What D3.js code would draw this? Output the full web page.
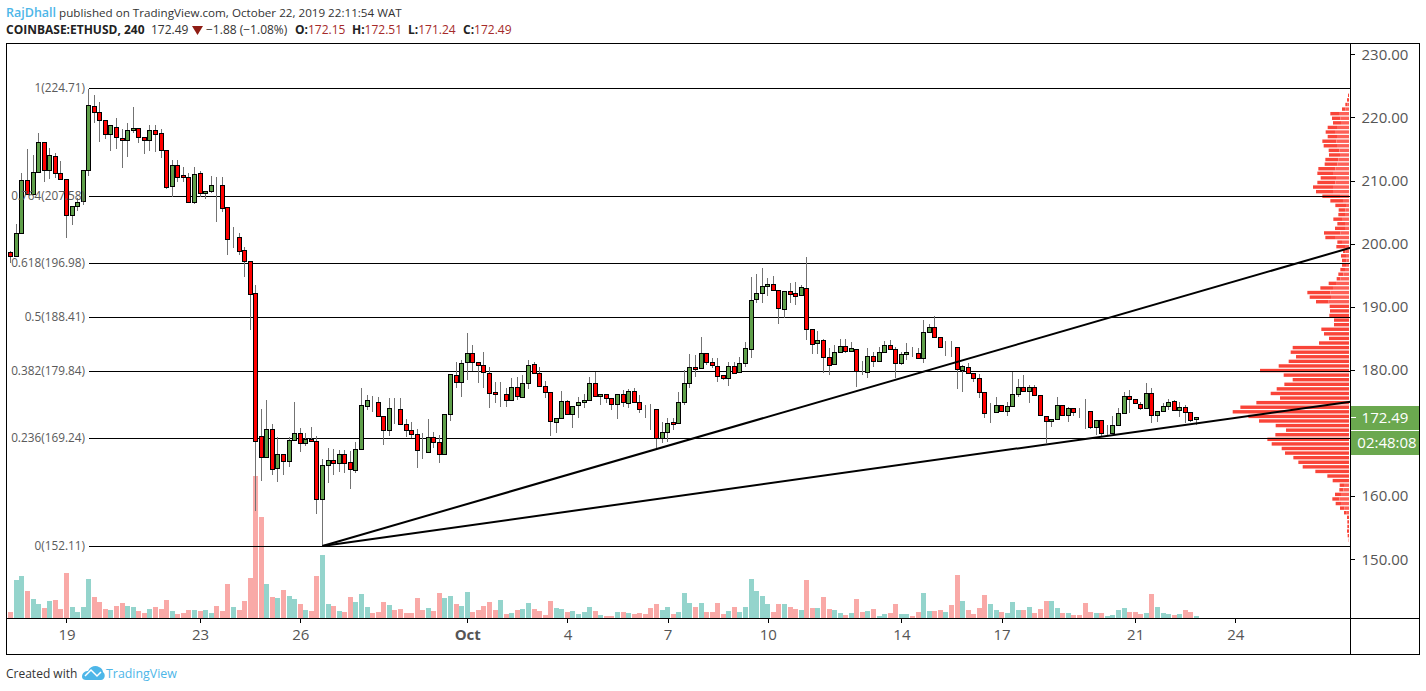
<!DOCTYPE html>
<html lang="en">
<head>
<meta charset="utf-8">
<title>ETHUSD 240</title>
<script src="https://d3js.org/d3.v7.min.js"></script>
<style>
  html, body { margin: 0; padding: 0; background: #fff; }
  svg { display: block; }
  text { font-family: "Open Sans", sans-serif; }
  .axis line, .axis path { stroke: #000; shape-rendering: crispEdges; }
</style>
</head>
<body>
<div id="chart"></div>
<script>
// candles, 4h bars, first bar Sep 17 08:00
var openPrices = [
198.64,198.00,201.65,210.04,207.82,211.31,216.06,211.62,213.84,211.15,
210.20,204.50,205.92,206.71,211.62,221.76,220.81,219.54,217.33,218.44,
216.69,216.38,217.96,218.28,216.85,216.38,217.96,217.49,214.79,209.09,
212.42,210.83,210.52,206.56,211.15,207.98,208.30,209.26,209.25,205.76,
201.10,201.01,198.95,197.21,192.14,169.49,166.16,170.60,164.42,166.64,
165.53,168.86,169.97,168.38,169.11,168.70,159.51,164.90,165.69,165.21,
166.64,165.37,164.10,167.43,174.24,175.14,174.88,172.66,170.44,173.88,
173.77,171.39,170.44,169.81,167.22,166.96,169.33,168.54,166.64,172.97,
179.15,178.04,181.21,182.64,181.21,180.74,179.47,176.46,176.02,176.14,
175.19,177.25,175.67,177.88,180.90,179.47,177.41,176.46,171.71,172.34,
175.03,172.97,174.40,174.88,175.19,177.88,175.83,176.14,175.51,174.56,
176.14,174.72,176.62,174.88,173.81,173.81,173.77,169.27,170.12,171.71,
171.55,174.88,177.88,180.42,180.26,182.64,181.21,180.58,179.15,178.68,
180.58,179.63,181.05,183.27,191.19,192.14,193.25,193.57,192.62,189.61,
192.46,192.14,191.82,192.93,186.44,184.22,184.70,182.00,180.90,182.80,
183.75,182.95,183.27,179.80,179.63,182.16,181.37,182.80,183.90,183.27,
181.05,182.48,182.81,182.64,181.84,185.96,186.76,185.17,183.66,183.68,
183.59,179.94,180.42,179.47,178.68,176.46,173.22,173.29,174.40,173.45,
174.24,176.14,177.25,176.62,177.25,175.98,172.66,171.87,172.18,174.40,
172.82,173.93,173.46,173.40,173.45,170.92,172.02,169.90,169.97,171.23,
173.13,175.83,175.35,174.56,173.93,176.30,172.82,173.45,174.24,175.03,
173.61,174.08,173.29,172.15];

var highPrices = [
198.84,203.12,211.20,214.99,214.05,217.53,216.06,215.16,214.36,213.10,
210.20,205.92,207.24,211.62,224.55,223.55,222.44,219.54,218.75,219.91,
218.17,219.12,221.65,218.28,216.85,218.80,218.80,218.17,214.79,213.26,
213.26,212.15,211.20,212.15,211.51,208.30,210.72,210.56,210.56,205.86,
202.64,201.69,199.48,197.21,193.46,173.81,175.24,171.44,169.38,166.64,
169.38,174.92,170.80,170.06,170.96,169.54,165.89,167.64,167.48,167.32,
167.32,167.16,168.59,177.14,176.03,175.87,175.72,172.66,175.56,175.56,
175.56,172.23,171.76,170.65,170.01,172.28,170.17,169.70,172.97,179.31,
181.31,181.58,185.85,183.95,181.21,182.84,180.47,178.09,178.09,177.14,
178.72,178.88,179.20,181.58,181.26,180.47,178.25,176.46,172.34,176.67,
175.30,174.24,175.72,176.19,178.88,179.67,176.14,176.14,175.51,176.14,
176.82,176.98,177.14,176.03,174.45,174.61,173.77,171.76,172.39,172.39,
176.51,179.99,182.53,182.37,185.22,182.64,181.89,181.89,179.15,181.26,
181.26,182.05,184.43,194.72,195.20,196.15,194.56,194.88,192.62,192.46,
193.77,193.93,193.46,197.94,186.44,186.17,184.90,183.48,183.95,184.90,
184.90,184.43,183.27,181.42,183.48,182.84,183.64,184.59,184.74,183.64,
182.84,184.27,183.64,183.48,187.91,187.28,188.55,185.17,184.59,184.59,
183.59,180.78,181.10,179.47,179.36,176.46,174.76,175.72,174.40,174.92,
179.67,178.57,179.20,177.62,177.62,175.98,172.66,172.18,175.72,174.40,
174.13,173.93,173.97,175.40,173.45,172.02,172.02,171.28,172.71,173.97,
176.51,176.82,175.35,174.92,177.93,177.14,173.45,174.76,175.40,175.24,
174.92,174.45,173.29,172.51];

var lowPrices = [
196.94,198.00,201.65,207.82,207.82,211.31,209.82,210.25,210.40,210.20,
200.95,202.96,205.18,206.20,210.77,219.12,216.15,216.63,214.73,215.05,
212.04,213.78,217.53,215.95,214.21,214.73,214.57,213.57,208.66,207.40,
209.77,209.77,206.56,206.29,207.40,207.08,207.98,203.48,205.07,198.21,
199.32,198.21,194.72,186.33,157.71,162.46,166.16,163.36,162.30,163.36,
164.63,168.86,167.05,167.95,168.70,157.18,152.11,162.09,163.36,163.84,
163.68,161.14,163.68,167.43,173.66,173.39,172.66,168.16,169.59,171.44,
171.23,169.38,169.22,164.47,165.89,166.80,167.64,165.26,166.48,171.96,
177.14,175.76,178.41,179.83,177.88,177.14,173.97,174.76,174.13,174.13,
175.19,175.19,175.67,176.98,179.47,177.25,175.56,169.59,170.01,172.34,
172.97,170.85,172.39,173.97,175.19,175.72,174.45,174.76,173.66,172.23,
174.13,173.97,174.88,173.18,172.39,170.49,167.64,168.43,168.64,170.49,
171.55,174.45,177.14,178.88,180.26,180.78,180.31,178.09,178.41,177.51,
179.47,179.63,180.47,181.89,190.60,190.60,191.71,192.62,187.28,188.23,
190.60,190.29,191.82,184.74,182.53,182.53,179.52,179.20,180.90,182.80,
182.68,182.95,177.35,179.20,178.72,180.47,181.37,182.80,183.27,178.72,
180.78,181.58,182.05,181.73,181.10,185.96,185.17,183.48,182.21,182.05,
176.98,176.55,179.47,178.09,175.56,172.31,171.60,173.29,173.45,172.71,
174.24,175.72,176.62,174.81,175.98,172.82,168.38,171.01,172.18,172.82,
171.76,172.71,172.39,170.65,170.65,169.70,169.38,169.70,169.97,171.23,
173.13,173.18,174.72,173.66,173.93,171.60,171.76,173.45,173.66,173.61,
172.55,171.60,171.76,171.24];

var closePrices = [
198.00,201.65,210.04,207.82,211.31,216.06,211.62,214.00,211.15,210.20,
204.50,205.92,206.56,211.62,221.92,220.81,219.54,217.33,218.75,216.85,
216.38,217.96,218.28,216.85,216.38,217.96,217.33,214.79,208.93,212.42,
210.52,210.52,206.56,211.00,207.98,208.30,209.25,209.25,205.61,200.69,
201.11,198.79,197.21,191.98,168.70,166.16,170.60,164.26,166.64,165.53,
168.86,169.97,168.38,169.11,168.70,159.51,164.90,165.69,165.21,166.64,
165.21,164.26,167.43,174.40,175.19,175.12,172.66,170.44,173.93,173.86,
171.39,170.44,169.81,167.27,167.20,169.33,168.54,166.64,172.97,179.31,
178.04,181.05,182.64,181.21,180.74,179.63,176.30,176.14,176.03,175.19,
177.25,175.83,177.88,180.74,179.47,177.41,176.46,171.87,172.34,175.03,
172.97,174.24,174.88,175.19,177.88,175.83,176.14,175.51,174.56,176.14,
174.88,176.62,174.88,173.77,173.79,173.79,169.27,170.12,171.55,171.39,
174.88,177.88,180.42,180.10,182.64,181.21,180.74,178.99,178.68,180.58,
179.47,181.05,183.43,191.03,192.14,193.25,193.57,192.62,189.77,192.46,
191.98,191.67,193.09,186.44,184.06,184.70,182.00,180.74,182.80,183.75,
182.95,183.43,179.79,179.78,182.16,181.37,182.80,183.90,183.27,181.05,
182.48,182.80,182.79,181.84,185.96,186.76,185.17,183.59,183.68,183.66,
180.10,180.58,179.47,178.68,176.46,173.13,173.24,174.40,173.45,174.24,
176.14,177.25,176.62,177.25,175.98,172.82,171.87,172.18,174.40,172.82,
173.93,173.29,173.44,173.38,170.92,172.02,169.97,169.92,171.23,173.13,
175.83,175.35,174.72,173.93,176.30,172.82,173.45,174.24,174.88,173.61,
174.08,173.29,172.02,172.49];

var volumes = [
19,115,127,82,58,43,31,52,55,28,
136,34,19,34,118,64,49,28,25,37,
46,37,34,22,16,28,34,28,55,22,
13,16,25,25,22,25,16,37,22,103,
34,25,52,121,427,304,103,64,61,85,
67,58,43,25,22,127,190,43,37,22,
19,64,49,73,34,16,19,49,40,25,
28,16,16,61,25,31,22,76,61,67,
43,37,79,19,25,37,49,25,55,13,
16,25,28,46,28,22,10,52,31,28,
19,22,13,19,34,22,10,7,7,19,
19,16,13,16,13,31,43,25,34,13,
19,76,46,34,46,19,19,46,13,22,
34,19,34,118,82,67,43,19,43,43,
34,28,25,115,31,31,64,28,25,16,
10,16,58,19,22,28,7,13,16,43,
13,13,7,19,76,22,22,25,19,40,
130,52,25,13,31,70,43,25,19,16,
49,25,25,34,16,28,52,52,31,16,
16,10,10,46,19,16,16,7,10,25,
31,19,19,13,16,73,34,16,13,10,
13,25,19,7];

// volume profile rows, top row first
var profileSell = [
3,6,6,10,26,25,24,28,28,28,42,40,32,33,39,38,51,47,46,54,
60,51,53,38,32,20,20,26,23,30,49,29,14,26,7,15,13,12,14,15,
11,22,38,69,64,38,58,57,59,45,45,83,75,60,90,169,175,159,181,211,
267,196,169,194,217,235,207,278,326,349,302,270,220,189,221,245,232,202,192,167,
152,139,101,65,49,13,12,18,21,16,13,8,6,5,5,6,4,1];
var profileBuy = [
0,0,5,11,30,26,24,36,42,36,38,36,29,27,32,35,41,48,39,41,
48,48,27,18,9,11,12,21,12,12,26,42,21,12,11,9,8,9,12,17,
26,39,48,56,54,61,0,0,0,0,0,0,0,0,0,0,0,0,0,0,
0,0,0,0,0,0,0,0,0,0,0,0,0,0,0,0,0,0,0,0,
0,0,0,0,0,15,17,24,29,24,14,7,0,0,0,0,0,0];
var profileTop = 223.5, profileStep = 0.7266;

// 170.00 sits behind the last price tag, so it is left out
var priceTicks = [150, 160, 180, 190, 200, 210, 220, 230];
var dateTickBars = [10, 34, 52, 82, 100, 118, 136, 160, 178, 202, 220];
var dateTickLabels = ["19", "23", "26", "Oct", "4", "7", "10", "14", "17", "21", "24"];

var fibRatios = ["1", "0.764", "0.618", "0.5", "0.382", "0.236", "0"];
var fibPrices = [224.71, 207.58, 196.98, 188.41, 179.84, 169.24, 152.11];

// both trend lines leave the bar 56 low and run off to the price scale
var trendFrom = [56, 152.11];
var trendEnds = [[240.7, 199.36], [240.7, 174.97]];

var lastPrice = "172.49", countdown = "02:48:08";

var W = 1426, H = 691;
var frameL = 6.5, frameR = 1419.5, frameT = 43.5, frameB = 654.5;
var scaleX = 1350.5, volBase = 618.5;

var svg = d3.select("#chart").append("svg").attr("width", W).attr("height", H);

var x = d3.scaleLinear().domain([0, 213]).range([10.8, 1196.4]);
var y = d3.scaleLinear().domain([150, 230]).range([559.3, 54.3]);
var yVol = d3.scaleLinear().domain([0, 427]).range([volBase, 476]);
var wProfile = d3.scaleLinear().domain([0, 349]).range([0, 116.3]);

var bars = d3.range(openPrices.length);
var px = function(i) { return Math.floor(x(i)) + 0.5; };
var isUp = function(i) { return closePrices[i] >= openPrices[i]; };

// header
var head = svg.append("g").attr("font-size", 12).attr("fill", "#333");
var line1 = head.append("text").attr("x", 6).attr("y", 16.5);
line1.append("tspan").attr("fill", "#4db6e8").attr("font-weight", 600).attr("font-size", 12.5).text("RajDhall");
line1.append("tspan").attr("font-size", 11.65).text(" published on TradingView.com, October 22, 2019 22:11:54 WAT");

head.append("text").attr("x", 6).attr("y", 33.5).attr("font-weight", 700).attr("fill", "#222")
  .text("COINBASE:ETHUSD, 240");
head.append("text").attr("x", 151).attr("y", 33.5).text("172.49");
head.append("path").attr("d", "M192,26H203L197.5,35Z").attr("fill", "#8f1d14");
head.append("text").attr("x", 206).attr("y", 33.5).text("\u22121.88 (\u22121.08%)");

var ohlc = [["O:", "172.15", 295], ["H:", "172.51", 352], ["L:", "171.24", 408], ["C:", "172.49", 463]];
ohlc.forEach(function(d) {
  var t = head.append("text").attr("x", d[2]).attr("y", 33.5);
  t.append("tspan").attr("font-weight", 700).attr("fill", "#222").text(d[0]);
  t.append("tspan").attr("fill", "#a52a2a").text(d[1]);
});

// frame
svg.append("rect").attr("x", frameL).attr("y", frameT)
  .attr("width", frameR - frameL).attr("height", frameB - frameT)
  .attr("fill", "none").attr("stroke", "#000").attr("shape-rendering", "crispEdges");

// volume
svg.append("g").selectAll("rect").data(bars).enter().append("rect")
  .attr("x", function(i) { return Math.floor(x(i)) - 2; })
  .attr("width", 5)
  .attr("y", function(i) { return yVol(volumes[i]); })
  .attr("height", function(i) { return volBase - yVol(volumes[i]); })
  .attr("fill", function(i) { return isUp(i) ? "#94d4cc" : "#f9a9a7"; })
  .attr("shape-rendering", "crispEdges");

// volume profile
var rows = d3.range(profileSell.length);
var rowY = function(k) { return y(profileTop - k * profileStep) - 1.7; };
var profile = svg.append("g");
profile.selectAll(".sell").data(rows).enter().append("rect").attr("class", "sell")
  .attr("x", function(k) { return scaleX - 1.5 - wProfile(profileBuy[k] + profileSell[k]); })
  .attr("y", rowY).attr("height", 3.4)
  .attr("width", function(k) { return wProfile(profileSell[k]); })
  .attr("fill", "#f94438");
profile.selectAll(".buy").data(rows).enter().append("rect").attr("class", "buy")
  .attr("x", function(k) { return scaleX - 1.5 - wProfile(profileBuy[k]); })
  .attr("y", rowY).attr("height", 3.4)
  .attr("width", function(k) { return wProfile(profileBuy[k]); })
  .attr("fill", "#fd6057");

// fib levels
var fibG = svg.append("g");
fibG.selectAll("line").data(fibPrices).enter().append("line")
  .attr("x1", 88.5).attr("x2", scaleX - 1)
  .attr("y1", function(d) { return Math.round(y(d)) + 0.5; })
  .attr("y2", function(d) { return Math.round(y(d)) + 0.5; })
  .attr("stroke", "#000").attr("shape-rendering", "crispEdges");

// wicks and bodies
svg.append("g").selectAll("line").data(bars).enter().append("line")
  .attr("x1", px).attr("x2", px)
  .attr("y1", function(i) { return y(highPrices[i]); })
  .attr("y2", function(i) { return y(lowPrices[i]); })
  .attr("stroke", "#737373").attr("shape-rendering", "crispEdges");

svg.append("g").selectAll("rect").data(bars).enter().append("rect")
  .attr("x", function(i) { return px(i) - 2; })
  .attr("width", 4)
  .attr("y", function(i) { return Math.round(y(Math.max(openPrices[i], closePrices[i]))) + 0.5; })
  .attr("height", function(i) {
    return Math.round(y(Math.min(openPrices[i], closePrices[i]))) - Math.round(y(Math.max(openPrices[i], closePrices[i])));
  })
  .attr("fill", function(i) { return isUp(i) ? "#5f9f4a" : "#ff0000"; })
  .attr("stroke", "#000").attr("shape-rendering", "crispEdges");

// trend lines
svg.append("g").selectAll("line").data(trendEnds).enter().append("line")
  .attr("x1", x(trendFrom[0])).attr("y1", y(trendFrom[1]))
  .attr("x2", function(d) { return x(d[0]); })
  .attr("y2", function(d) { return y(d[1]); })
  .attr("stroke", "#000").attr("stroke-width", 2);

// fib labels
svg.append("g").selectAll("text").data(fibPrices).enter().append("text")
  .attr("x", 85).attr("text-anchor", "end").attr("dy", "0.35em")
  .attr("y", function(d) { return y(d); })
  .attr("font-size", 11.8).attr("fill", "#5a5a5a")
  .text(function(d, i) { return fibRatios[i] + "(" + d.toFixed(2) + ")"; });

// axes
var yAxis = d3.axisRight(y).tickValues(priceTicks).tickFormat(d3.format(".2f")).tickSize(4).tickPadding(7);
var yG = svg.append("g").attr("class", "axis").attr("transform", "translate(" + scaleX + ",0)").call(yAxis);
yG.select(".domain").attr("d", "M0," + frameT + "V" + frameB);
yG.selectAll("text").style("font-size", "15px").style("fill", "#555");

var xAxis = d3.axisBottom(x).tickValues(dateTickBars)
  .tickFormat(function(d, i) { return dateTickLabels[i]; }).tickSize(4).tickPadding(7);
var xG = svg.append("g").attr("class", "axis").attr("transform", "translate(0," + volBase + ")").call(xAxis);
xG.select(".domain").attr("d", "M" + frameL + ",0H" + frameR);
xG.selectAll("text").style("font-size", "15px").style("fill", "#555")
  .filter(function(d, i) { return dateTickLabels[i] == "Oct"; }).style("font-weight", 700);

// last price tag
var tag = svg.append("g");
tag.append("rect").attr("x", scaleX + 0.5).attr("y", 406).attr("width", frameR - scaleX - 1).attr("height", 49)
  .attr("fill", "#6ba84f");
tag.append("line").attr("x1", scaleX + 0.5).attr("x2", frameR - 0.5).attr("y1", 430.5).attr("y2", 430.5)
  .attr("stroke", "#fff").attr("shape-rendering", "crispEdges");
tag.append("line").attr("x1", scaleX + 0.5).attr("x2", scaleX + 5).attr("y1", Math.round(y(172.49)) + 0.5).attr("y2", Math.round(y(172.49)) + 0.5)
  .attr("stroke", "#fff").attr("shape-rendering", "crispEdges");
tag.append("text").attr("x", 1385).attr("y", 423).attr("text-anchor", "middle")
  .attr("font-size", 15).attr("fill", "#fff").text(lastPrice);
tag.append("text").attr("x", 1387).attr("y", 448).attr("text-anchor", "middle")
  .attr("font-size", 15).attr("fill", "#fff").text(countdown);

// footer
var foot = svg.append("g");
foot.append("text").attr("x", 6).attr("y", 678).attr("font-size", 12).attr("fill", "#333").text("Created with");
foot.append("path")
  .attr("d", "M82,677 C82,672 86,671 88,671 C90,666 96,665 99,667 C102,668 103,671 103,672 C106,674 105,680 101,680 L86,680 C84,680 82,679 82,677Z")
  .attr("fill", "#4db6e8");
foot.append("path").attr("d", "M85,676 L91,670 L97,676 L101,672")
  .attr("fill", "none").attr("stroke", "#fff").attr("stroke-width", 1.5);
foot.append("text").attr("x", 106).attr("y", 678).attr("font-size", 12.4).attr("fill", "#4db6e8").text("TradingView");
</script>
</body>
</html>
